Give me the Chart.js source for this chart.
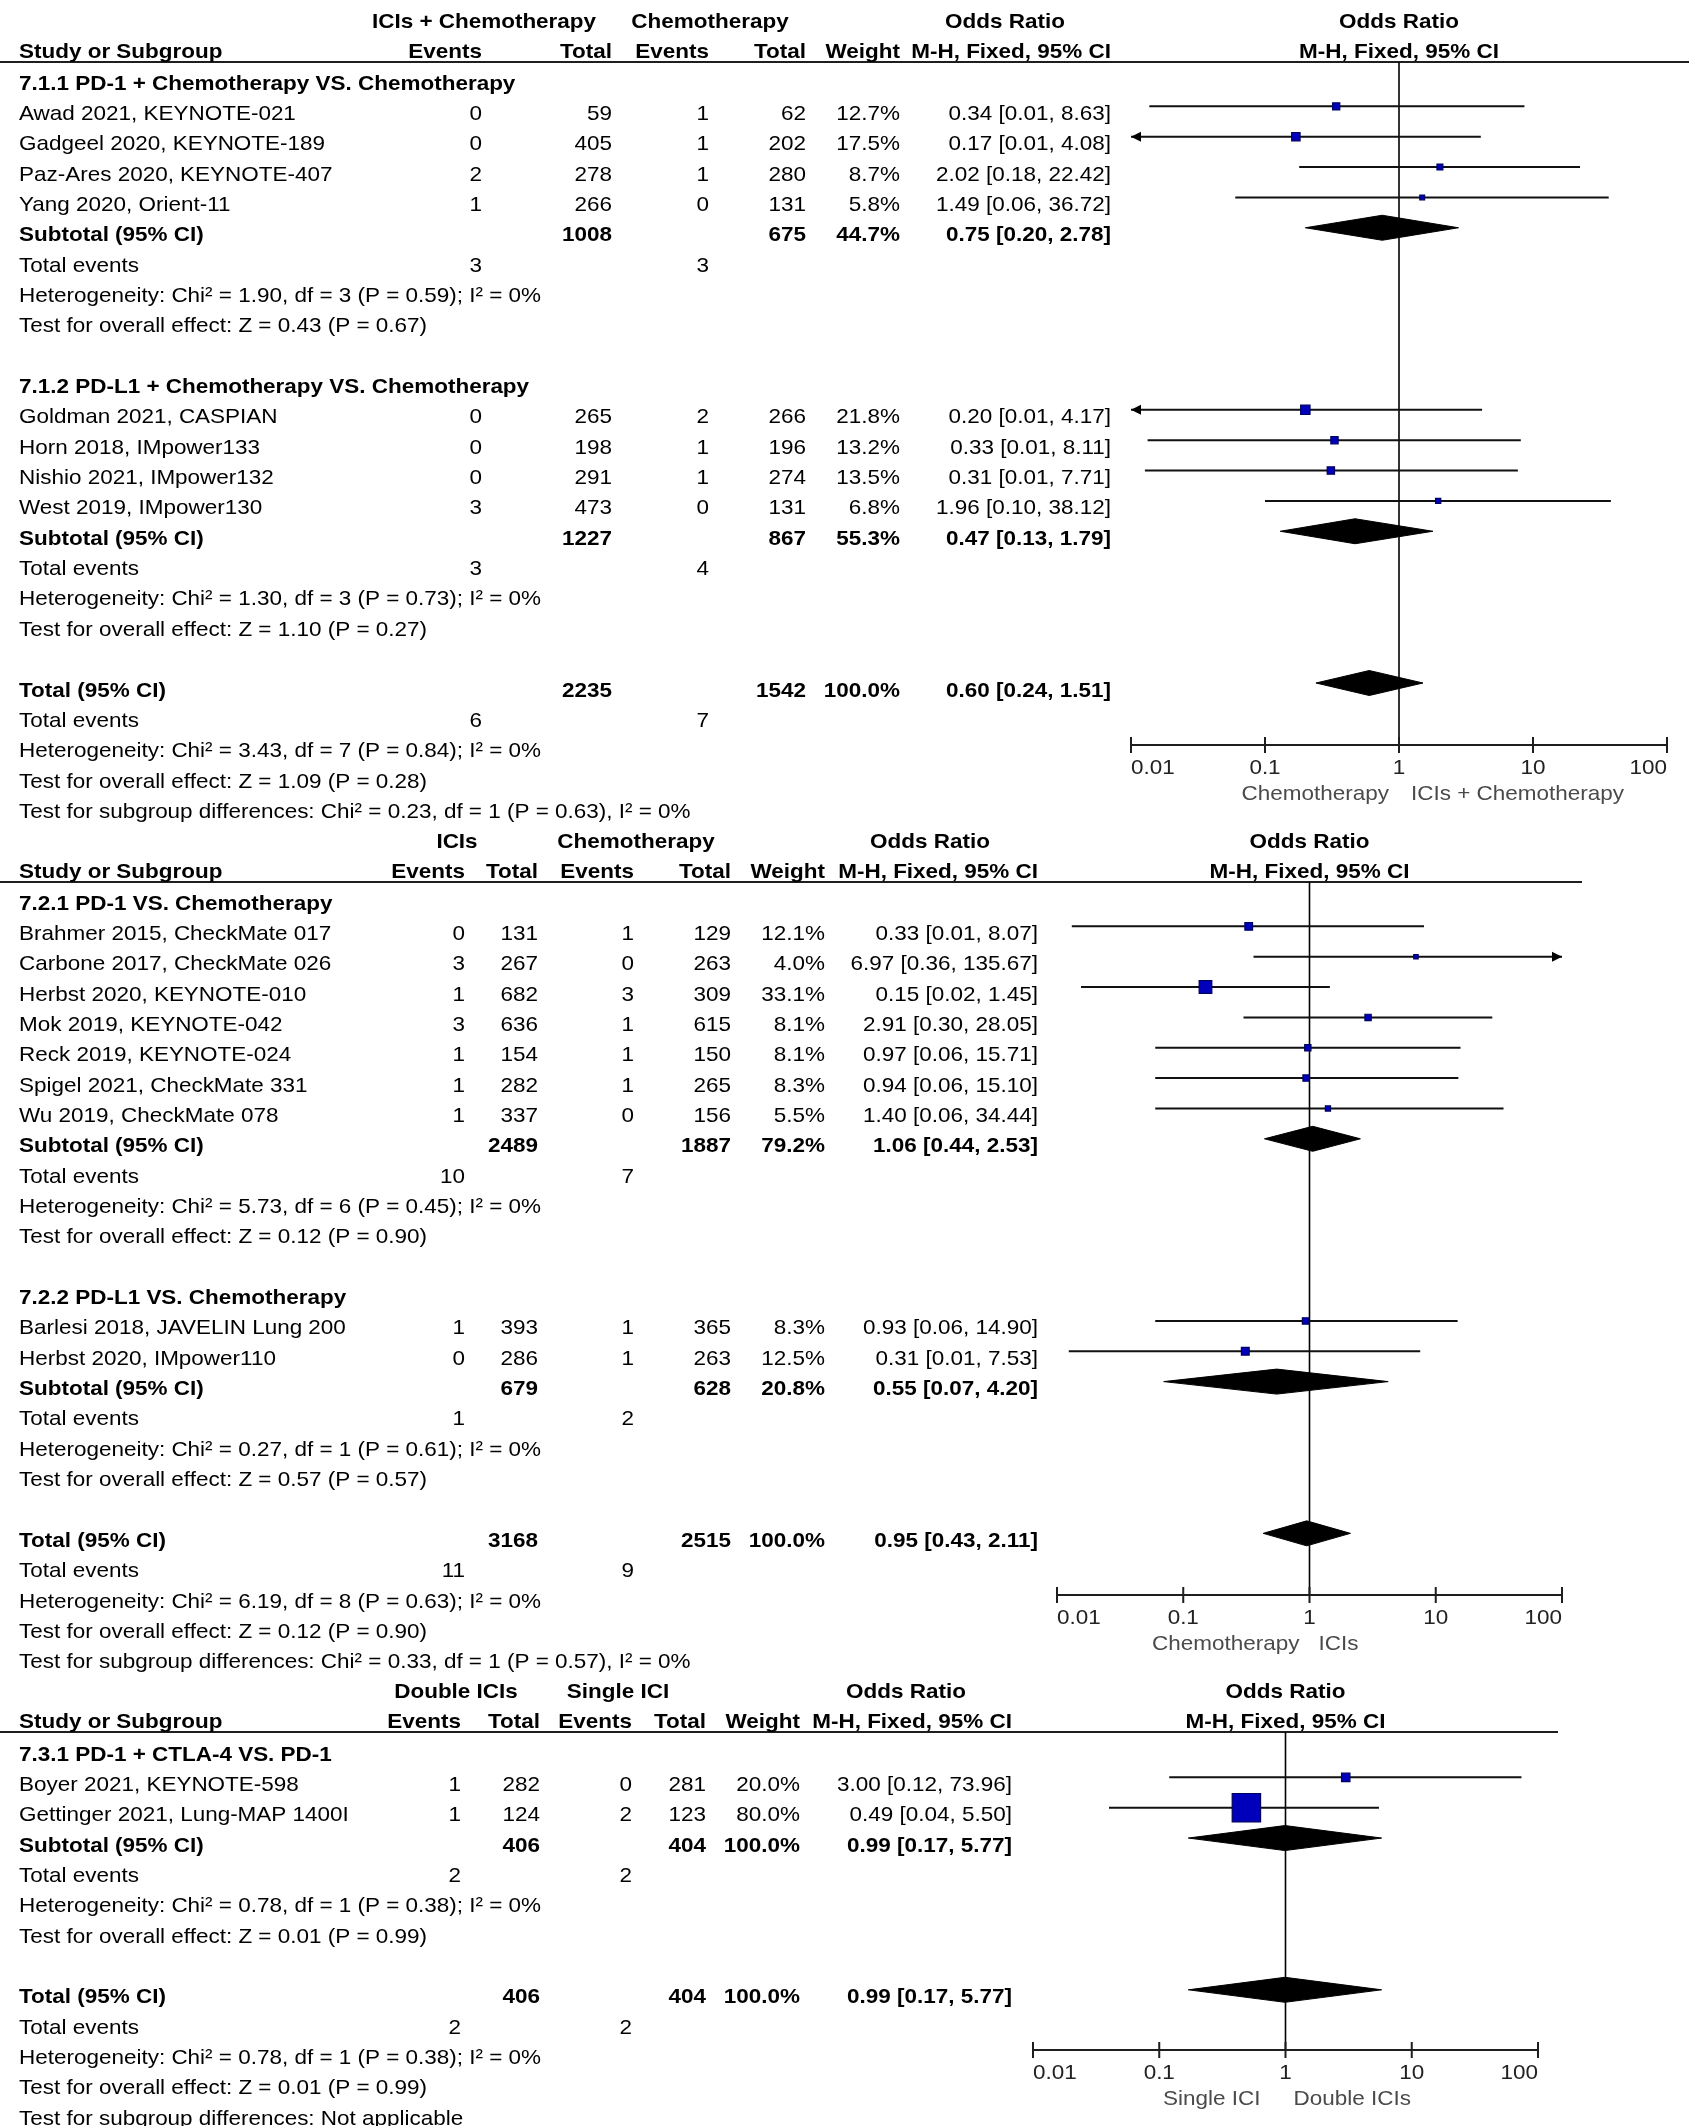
<!DOCTYPE html>
<html>
<head>
<meta charset="utf-8">
<script src="https://cdn.jsdelivr.net/npm/chart.js@4.4.1/dist/chart.umd.min.js"></script>
<style>
html, body { margin: 0; padding: 0; background: #ffffff; }
#wrap { position: relative; width: 1689px; height: 2126px; overflow: hidden; background: #ffffff; }
#wrap canvas { position: absolute; left: 0; top: 0; }
</style>
</head>
<body>
<div id="wrap">
  <canvas id="c1" width="1689" height="2126"></canvas>
  <canvas id="c2" width="1689" height="2126"></canvas>
  <canvas id="c3" width="1689" height="2126"></canvas>
</div>
<script>
// ================= DATA =================
const tickValues = [0.01, 0.1, 1, 10, 100];
const tickLabels = ['0.01', '0.1', '1', '10', '100'];

// ---- Panel 1: ICIs + Chemotherapy vs Chemotherapy
const p1Heads = ['ICIs + Chemotherapy', 'Chemotherapy'];
const p1Favours = ['Chemotherapy', 'ICIs + Chemotherapy'];
const p1GroupRows = [0, 10];
const p1GroupNames = ['7.1.1 PD-1 + Chemotherapy VS. Chemotherapy', '7.1.2 PD-L1 + Chemotherapy VS. Chemotherapy'];
const p1Rows = [1, 2, 3, 4, 11, 12, 13, 14];
const p1Study = ['Awad 2021, KEYNOTE-021', 'Gadgeel 2020, KEYNOTE-189', 'Paz-Ares 2020, KEYNOTE-407', 'Yang 2020, Orient-11',
                 'Goldman 2021, CASPIAN', 'Horn 2018, IMpower133', 'Nishio 2021, IMpower132', 'West 2019, IMpower130'];
const p1EvA = [0, 0, 2, 1, 0, 0, 0, 3];
const p1TotA = [59, 405, 278, 266, 265, 198, 291, 473];
const p1EvB = [1, 1, 1, 0, 2, 1, 1, 0];
const p1TotB = [62, 202, 280, 131, 266, 196, 274, 131];
const p1Weight = [12.7, 17.5, 8.7, 5.8, 21.8, 13.2, 13.5, 6.8];
const p1OR = [0.34, 0.17, 2.02, 1.49, 0.20, 0.33, 0.31, 1.96];
const p1Lo = [0.0137, 0.0067, 0.18, 0.06, 0.0095, 0.0133, 0.0127, 0.10];
const p1Hi = [8.63, 4.08, 22.42, 36.72, 4.17, 8.11, 7.71, 38.12];
const p1SumRows = [5, 15, 20];
const p1SumNames = ['Subtotal (95% CI)', 'Subtotal (95% CI)', 'Total (95% CI)'];
const p1SumTotA = [1008, 1227, 2235];
const p1SumTotB = [675, 867, 1542];
const p1SumWeight = [44.7, 55.3, 100.0];
const p1SumOR = [0.75, 0.47, 0.60];
const p1SumLo = [0.20, 0.13, 0.24];
const p1SumHi = [2.78, 1.79, 1.51];
const p1EventRows = [6, 16, 21];
const p1EventsA = [3, 3, 6];
const p1EventsB = [3, 4, 7];
const p1NoteRows = [7, 8, 17, 18, 22, 23, 24];
const p1Notes = ['Heterogeneity: Chi\u00B2 = 1.90, df = 3 (P = 0.59); I\u00B2 = 0%',
                 'Test for overall effect: Z = 0.43 (P = 0.67)',
                 'Heterogeneity: Chi\u00B2 = 1.30, df = 3 (P = 0.73); I\u00B2 = 0%',
                 'Test for overall effect: Z = 1.10 (P = 0.27)',
                 'Heterogeneity: Chi\u00B2 = 3.43, df = 7 (P = 0.84); I\u00B2 = 0%',
                 'Test for overall effect: Z = 1.09 (P = 0.28)',
                 'Test for subgroup differences: Chi\u00B2 = 0.23, df = 1 (P = 0.63), I\u00B2 = 0%'];

// ---- Panel 2: ICIs vs Chemotherapy
const p2Heads = ['ICIs', 'Chemotherapy'];
const p2Favours = ['Chemotherapy', 'ICIs'];
const p2GroupRows = [0, 13];
const p2GroupNames = ['7.2.1 PD-1 VS. Chemotherapy', '7.2.2 PD-L1 VS. Chemotherapy'];
const p2Rows = [1, 2, 3, 4, 5, 6, 7, 14, 15];
const p2Study = ['Brahmer 2015, CheckMate 017', 'Carbone 2017, CheckMate 026', 'Herbst 2020, KEYNOTE-010', 'Mok 2019, KEYNOTE-042',
                 'Reck 2019, KEYNOTE-024', 'Spigel 2021, CheckMate 331', 'Wu 2019, CheckMate 078',
                 'Barlesi 2018, JAVELIN Lung 200', 'Herbst 2020, IMpower110'];
const p2EvA = [0, 3, 1, 3, 1, 1, 1, 1, 0];
const p2TotA = [131, 267, 682, 636, 154, 282, 337, 393, 286];
const p2EvB = [1, 0, 3, 1, 1, 1, 0, 1, 1];
const p2TotB = [129, 263, 309, 615, 150, 265, 156, 365, 263];
const p2Weight = [12.1, 4.0, 33.1, 8.1, 8.1, 8.3, 5.5, 8.3, 12.5];
const p2OR = [0.33, 6.97, 0.15, 2.91, 0.97, 0.94, 1.40, 0.93, 0.31];
const p2Lo = [0.0131, 0.36, 0.0155, 0.30, 0.06, 0.06, 0.06, 0.06, 0.0124];
const p2Hi = [8.07, 135.67, 1.45, 28.05, 15.71, 15.10, 34.44, 14.90, 7.53];
const p2SumRows = [8, 16, 21];
const p2SumNames = ['Subtotal (95% CI)', 'Subtotal (95% CI)', 'Total (95% CI)'];
const p2SumTotA = [2489, 679, 3168];
const p2SumTotB = [1887, 628, 2515];
const p2SumWeight = [79.2, 20.8, 100.0];
const p2SumOR = [1.06, 0.55, 0.95];
const p2SumLo = [0.44, 0.07, 0.43];
const p2SumHi = [2.53, 4.20, 2.11];
const p2EventRows = [9, 17, 22];
const p2EventsA = [10, 1, 11];
const p2EventsB = [7, 2, 9];
const p2NoteRows = [10, 11, 18, 19, 23, 24, 25];
const p2Notes = ['Heterogeneity: Chi\u00B2 = 5.73, df = 6 (P = 0.45); I\u00B2 = 0%',
                 'Test for overall effect: Z = 0.12 (P = 0.90)',
                 'Heterogeneity: Chi\u00B2 = 0.27, df = 1 (P = 0.61); I\u00B2 = 0%',
                 'Test for overall effect: Z = 0.57 (P = 0.57)',
                 'Heterogeneity: Chi\u00B2 = 6.19, df = 8 (P = 0.63); I\u00B2 = 0%',
                 'Test for overall effect: Z = 0.12 (P = 0.90)',
                 'Test for subgroup differences: Chi\u00B2 = 0.33, df = 1 (P = 0.57), I\u00B2 = 0%'];

// ---- Panel 3: Double ICIs vs Single ICI
const p3Heads = ['Double ICIs', 'Single ICI'];
const p3Favours = ['Single ICI', 'Double ICIs'];
const p3GroupRows = [0];
const p3GroupNames = ['7.3.1 PD-1 + CTLA-4 VS. PD-1'];
const p3Rows = [1, 2];
const p3Study = ['Boyer 2021, KEYNOTE-598', 'Gettinger 2021, Lung-MAP 1400I'];
const p3EvA = [1, 1];
const p3TotA = [282, 124];
const p3EvB = [0, 2];
const p3TotB = [281, 123];
const p3Weight = [20.0, 80.0];
const p3OR = [3.00, 0.49];
const p3Lo = [0.12, 0.04];
const p3Hi = [73.96, 5.50];
const p3SumRows = [3, 8];
const p3SumNames = ['Subtotal (95% CI)', 'Total (95% CI)'];
const p3SumTotA = [406, 406];
const p3SumTotB = [404, 404];
const p3SumWeight = [100.0, 100.0];
const p3SumOR = [0.99, 0.99];
const p3SumLo = [0.17, 0.17];
const p3SumHi = [5.77, 5.77];
const p3EventRows = [4, 9];
const p3EventsA = [2, 2];
const p3EventsB = [2, 2];
const p3NoteRows = [5, 6, 10, 11, 12];
const p3Notes = ['Heterogeneity: Chi\u00B2 = 0.78, df = 1 (P = 0.38); I\u00B2 = 0%',
                 'Test for overall effect: Z = 0.01 (P = 0.99)',
                 'Heterogeneity: Chi\u00B2 = 0.78, df = 1 (P = 0.38); I\u00B2 = 0%',
                 'Test for overall effect: Z = 0.01 (P = 0.99)',
                 'Test for subgroup differences: Not applicable'];

// ================= RENDERING =================
const W = 1689, H = 2126;
const FONT = '"Liberation Sans", Arial, Helvetica, sans-serif';
const FS = 21;      // font px
const SX = 1.07;    // horizontal text stretch
const PITCH = 30.35;

function drawText(ctx, s, x, y, align, bold, color, size) {
  ctx.save();
  ctx.font = (bold ? 'bold ' : '') + (size || FS) + 'px ' + FONT;
  ctx.fillStyle = color || '#000';
  ctx.textAlign = align;
  ctx.textBaseline = 'alphabetic';
  ctx.translate(x, y);
  ctx.scale(SX, 1);
  ctx.fillText(String(s), 0, 0);
  ctx.restore();
}

function esText(or, lo, hi) {
  return or.toFixed(2) + ' [' + lo.toFixed(2) + ', ' + hi.toFixed(2) + ']';
}

function forestPlugin(D, L) {
  return {
    id: 'forest',
    beforeDatasetsDraw(chart) {
      const { ctx, chartArea: a, scales: { x } } = chart;
      ctx.save();
      // header rule
      ctx.strokeStyle = '#1e1e1e';
      ctx.lineWidth = 2;
      ctx.beginPath();
      ctx.moveTo(0, a.top);
      ctx.lineTo(L.lineRight, a.top);
      ctx.stroke();
      // line of no effect
      const x1 = x.getPixelForValue(1);
      ctx.strokeStyle = '#000';
      ctx.lineWidth = 1.6;
      ctx.beginPath();
      ctx.moveTo(x1, a.top);
      ctx.lineTo(x1, a.bottom);
      ctx.stroke();
      ctx.restore();
    },
    afterDatasetsDraw(chart) {
      const { ctx, scales: { x, y } } = chart;
      ctx.save();
      ctx.fillStyle = '#000';
      D.rows.forEach((r, i) => {
        const py = y.getPixelForValue(r);
        if (D.lo[i] < x.min) {
          const tip = x.getPixelForValue(x.min);
          ctx.beginPath();
          ctx.moveTo(tip, py);
          ctx.lineTo(tip + 10, py - 5);
          ctx.lineTo(tip + 10, py + 5);
          ctx.closePath();
          ctx.fill();
        }
        if (D.hi[i] > x.max) {
          const tip = x.getPixelForValue(x.max);
          ctx.beginPath();
          ctx.moveTo(tip, py);
          ctx.lineTo(tip - 10, py - 5);
          ctx.lineTo(tip - 10, py + 5);
          ctx.closePath();
          ctx.fill();
        }
      });
      ctx.restore();
    },
    afterDraw(chart) {
      const { ctx, chartArea: a, scales: { x, y } } = chart;
      const C = L.cols;
      const x1 = x.getPixelForValue(1);
      const base = r => y.getPixelForValue(r) + 13.5;

      // column headers
      const h1 = a.top - 34, h2 = a.top - 4;
      drawText(ctx, D.heads[0], L.headCenters[0], h1, 'center', true);
      drawText(ctx, D.heads[1], L.headCenters[1], h1, 'center', true);
      drawText(ctx, 'Odds Ratio', L.orHead, h1, 'center', true);
      drawText(ctx, 'Odds Ratio', x1, h1, 'center', true);
      drawText(ctx, 'Study or Subgroup', L.textLeft, h2, 'left', true);
      drawText(ctx, 'Events', C.evA, h2, 'right', true);
      drawText(ctx, 'Total', C.totA, h2, 'right', true);
      drawText(ctx, 'Events', C.evB, h2, 'right', true);
      drawText(ctx, 'Total', C.totB, h2, 'right', true);
      drawText(ctx, 'Weight', C.wt, h2, 'right', true);
      drawText(ctx, 'M-H, Fixed, 95% CI', C.es, h2, 'right', true);
      drawText(ctx, 'M-H, Fixed, 95% CI', x1, h2, 'center', true);

      // subgroup titles
      D.groupRows.forEach((r, i) => drawText(ctx, D.groupNames[i], L.textLeft, base(r), 'left', true));

      // study rows
      D.rows.forEach((r, i) => {
        const b = base(r);
        drawText(ctx, D.study[i], L.textLeft, b, 'left', false);
        drawText(ctx, D.evA[i], C.evA, b, 'right', false);
        drawText(ctx, D.totA[i], C.totA, b, 'right', false);
        drawText(ctx, D.evB[i], C.evB, b, 'right', false);
        drawText(ctx, D.totB[i], C.totB, b, 'right', false);
        drawText(ctx, D.weight[i].toFixed(1) + '%', C.wt, b, 'right', false);
        drawText(ctx, esText(D.or[i], D.lo[i], D.hi[i]), C.es, b, 'right', false);
      });

      // summary rows
      D.sumRows.forEach((r, i) => {
        const b = base(r);
        drawText(ctx, D.sumNames[i], L.textLeft, b, 'left', true);
        drawText(ctx, D.sumTotA[i], C.totA, b, 'right', true);
        drawText(ctx, D.sumTotB[i], C.totB, b, 'right', true);
        drawText(ctx, D.sumWeight[i].toFixed(1) + '%', C.wt, b, 'right', true);
        drawText(ctx, esText(D.sumOR[i], D.sumLo[i], D.sumHi[i]), C.es, b, 'right', true);
      });

      // total events rows
      D.eventRows.forEach((r, i) => {
        const b = base(r);
        drawText(ctx, 'Total events', L.textLeft, b, 'left', false);
        drawText(ctx, D.eventsA[i], C.evA, b, 'right', false);
        drawText(ctx, D.eventsB[i], C.evB, b, 'right', false);
      });

      // notes
      D.noteRows.forEach((r, i) => drawText(ctx, D.notes[i], L.textLeft, base(r), 'left', false));

      // forest x axis
      const ya = a.bottom;
      const xs = tickValues.map(v => x.getPixelForValue(v));
      ctx.save();
      ctx.strokeStyle = '#1e1e1e';
      ctx.lineWidth = 2;
      ctx.beginPath();
      ctx.moveTo(xs[0], ya);
      ctx.lineTo(xs[xs.length - 1], ya);
      ctx.stroke();
      xs.forEach(px => {
        ctx.beginPath();
        ctx.moveTo(px, ya - 8);
        ctx.lineTo(px, ya + 8);
        ctx.stroke();
      });
      ctx.restore();
      xs.forEach((px, i) => {
        const al = i === 0 ? 'left' : (i === xs.length - 1 ? 'right' : 'center');
        drawText(ctx, tickLabels[i], px, ya + 29, al, false, '#222');
      });
      drawText(ctx, D.favours[0], x1 - L.favGap[0], ya + 55, 'right', false, '#4a4a4a');
      drawText(ctx, D.favours[1], x1 + L.favGap[1], ya + 55, 'left', false, '#4a4a4a');
    }
  };
}

function makePanel(canvasId, D, L) {
  const yMin = -L.firstOffset / PITCH;
  const yMax = yMin + (L.bottom - L.top) / PITCH;
  const dia = 12.5 / PITCH;
  const datasets = [];

  // study squares (size from weight)
  datasets.push({
    data: D.rows.map((r, i) => ({ x: D.or[i], y: r })),
    pointStyle: 'rect',
    pointRadius: D.weight.map(w => L.sqK * Math.pow(w, L.sqP) / Math.SQRT2),
    pointHoverRadius: D.weight.map(w => L.sqK * Math.pow(w, L.sqP) / Math.SQRT2),
    backgroundColor: '#0000bc',
    borderColor: '#00005e',
    borderWidth: 1.2,
    showLine: false,
    order: 0
  });

  // confidence interval whiskers
  D.rows.forEach((r, i) => {
    datasets.push({
      data: [{ x: D.lo[i], y: r }, { x: D.hi[i], y: r }],
      showLine: true,
      borderColor: '#111',
      borderWidth: 2,
      pointRadius: 0,
      pointHoverRadius: 0,
      order: 2
    });
  });

  // summary diamonds
  D.sumRows.forEach((r, i) => {
    datasets.push({
      data: [
        { x: D.sumLo[i], y: r },
        { x: D.sumOR[i], y: r - dia },
        { x: D.sumHi[i], y: r },
        { x: D.sumOR[i], y: r + dia },
        { x: D.sumLo[i], y: r }
      ],
      showLine: true,
      fill: 'shape',
      backgroundColor: '#000',
      borderColor: '#000',
      borderWidth: 1,
      pointRadius: 0,
      pointHoverRadius: 0,
      tension: 0,
      order: 1
    });
  });

  return new Chart(document.getElementById(canvasId), {
    type: 'scatter',
    data: { datasets },
    options: {
      responsive: false,
      maintainAspectRatio: false,
      devicePixelRatio: 1,
      animation: false,
      events: [],
      layout: { padding: { left: L.left, right: W - L.right, top: L.top, bottom: H - L.bottom } },
      scales: {
        x: { type: 'logarithmic', min: tickValues[0], max: tickValues[tickValues.length - 1], display: false, bounds: 'data' },
        y: { type: 'linear', min: yMin, max: yMax, reverse: true, display: false, bounds: 'data' }
      },
      plugins: { legend: { display: false }, tooltip: { enabled: false } }
    },
    plugins: [forestPlugin(D, L)]
  });
}

const panel1 = {
  heads: p1Heads, favours: p1Favours, groupRows: p1GroupRows, groupNames: p1GroupNames,
  rows: p1Rows, study: p1Study, evA: p1EvA, totA: p1TotA, evB: p1EvB, totB: p1TotB,
  weight: p1Weight, or: p1OR, lo: p1Lo, hi: p1Hi,
  sumRows: p1SumRows, sumNames: p1SumNames, sumTotA: p1SumTotA, sumTotB: p1SumTotB,
  sumWeight: p1SumWeight, sumOR: p1SumOR, sumLo: p1SumLo, sumHi: p1SumHi,
  eventRows: p1EventRows, eventsA: p1EventsA, eventsB: p1EventsB, noteRows: p1NoteRows, notes: p1Notes
};
const panel2 = {
  heads: p2Heads, favours: p2Favours, groupRows: p2GroupRows, groupNames: p2GroupNames,
  rows: p2Rows, study: p2Study, evA: p2EvA, totA: p2TotA, evB: p2EvB, totB: p2TotB,
  weight: p2Weight, or: p2OR, lo: p2Lo, hi: p2Hi,
  sumRows: p2SumRows, sumNames: p2SumNames, sumTotA: p2SumTotA, sumTotB: p2SumTotB,
  sumWeight: p2SumWeight, sumOR: p2SumOR, sumLo: p2SumLo, sumHi: p2SumHi,
  eventRows: p2EventRows, eventsA: p2EventsA, eventsB: p2EventsB, noteRows: p2NoteRows, notes: p2Notes
};
const panel3 = {
  heads: p3Heads, favours: p3Favours, groupRows: p3GroupRows, groupNames: p3GroupNames,
  rows: p3Rows, study: p3Study, evA: p3EvA, totA: p3TotA, evB: p3EvB, totB: p3TotB,
  weight: p3Weight, or: p3OR, lo: p3Lo, hi: p3Hi,
  sumRows: p3SumRows, sumNames: p3SumNames, sumTotA: p3SumTotA, sumTotB: p3SumTotB,
  sumWeight: p3SumWeight, sumOR: p3SumOR, sumLo: p3SumLo, sumHi: p3SumHi,
  eventRows: p3EventRows, eventsA: p3EventsA, eventsB: p3EventsB, noteRows: p3NoteRows, notes: p3Notes
};

makePanel('c1', panel1, {
  left: 1131, right: 1667, top: 62, bottom: 745, firstOffset: 14,
  textLeft: 19, lineRight: 1689,
  cols: { evA: 482, totA: 612, evB: 709, totB: 806, wt: 900, es: 1111 },
  headCenters: [484, 710], orHead: 1005, favGap: [10, 12], sqK: 2.0, sqP: 0.5
});
makePanel('c2', panel2, {
  left: 1057, right: 1562, top: 882, bottom: 1595, firstOffset: 14,
  textLeft: 19, lineRight: 1582,
  cols: { evA: 465, totA: 538, evB: 634, totB: 731, wt: 825, es: 1038 },
  headCenters: [457, 636], orHead: 930, favGap: [10, 9], sqK: 2.2, sqP: 0.5
});
makePanel('c3', panel3, {
  left: 1033, right: 1538, top: 1732, bottom: 2050, firstOffset: 15,
  textLeft: 19, lineRight: 1558,
  cols: { evA: 461, totA: 540, evB: 632, totB: 706, wt: 800, es: 1012 },
  headCenters: [456, 618], orHead: 906, favGap: [25, 8], sqK: 0.6, sqP: 0.88
});
</script>
</body>
</html>
